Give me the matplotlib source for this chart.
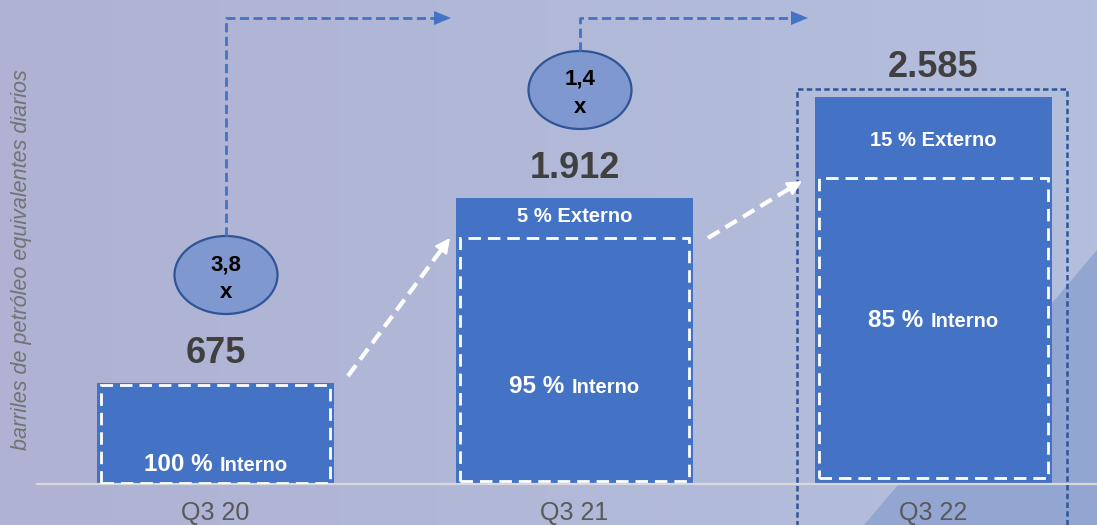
import numpy as np
import matplotlib
matplotlib.use("Agg")
import matplotlib.pyplot as plt
from matplotlib.patches import Rectangle, Ellipse, Polygon
from matplotlib.offsetbox import TextArea, HPacker, AnnotationBbox

plt.rcParams['font.family'] = ['Liberation Sans', 'DejaVu Sans']

# Data
categories = ["Q3 20", "Q3 21", "Q3 22"]
totals = [675, 1912, 2585]
interno_pct = [100, 95, 85]
externo_pct = [0, 5, 15]
growth = ["3,8", "1,4"]

# where the dashed "interno" frame sits on each bar (data units)
interno_box_top = [662, 1644, 2045]
interno_box_bottom = [7, 20, 40]
interno_label_y = [130, 655, 1096]
externo_label_y = [None, 1785, 2299]

W, H = 1097, 525
BAR_COLOR = "#4472c4"
DARK_BLUE = "#2f5597"

fig = plt.figure(figsize=(W / 100, H / 100), dpi=100)

# background gradient + diagonal decoration (pixel coords)
bg = fig.add_axes([0, 0, 1, 1], zorder=0)
bg.set_xlim(0, W)
bg.set_ylim(H, 0)
bg.axis("off")
left_c = np.array([175, 178, 211]) / 255
right_c = np.array([180, 191, 221]) / 255
t = np.linspace(0, 1, 256)[None, :, None]
grad = left_c * (1 - t) + right_c * t
bg.imshow(grad, extent=[0, W, H, 0], aspect="auto")
bg.add_patch(Polygon([(864, 525), (1097, 250), (1097, 525)], closed=True,
                     facecolor="#92a6d1", edgecolor="none"))

# main axes: baseline at the bottom spine
ax = fig.add_axes([37 / W, 41 / H, 1060 / W, 484 / H], zorder=1)
ax.set_facecolor("none")
x = np.arange(len(categories))
width = 0.66
ax.bar(x, totals, width=width, color=BAR_COLOR, zorder=2)
ax.set_xlim((37 - 215.5) / 359, (W - 215.5) / 359)
ax.set_ylim(0, 3235)
for side in ["left", "right", "top"]:
    ax.spines[side].set_visible(False)
ax.spines["bottom"].set_color("#d9d9d9")
ax.spines["bottom"].set_linewidth(1.6)
ax.set_yticks([])
ax.set_xticks(x)
ax.set_xticklabels(categories, fontsize=18, color="#595959")
ax.tick_params(axis="x", length=0, pad=12.5)

# white dashed frames for the internal share
for i in range(len(categories)):
    ax.add_patch(Rectangle((x[i] - 0.32, interno_box_bottom[i]), 0.64,
                           interno_box_top[i] - interno_box_bottom[i],
                           fill=False, edgecolor="white", lw=2,
                           linestyle=(0, (4.5, 2.5)), zorder=3))

# totals above bars
for i, v in enumerate(totals):
    ax.text(x[i], v + 200, f"{v:,}".replace(",", "."), ha="center", va="center",
            fontsize=26, fontweight="bold", color="#404040", zorder=4)


def mixed_label(xpos, ypos, big, small, big_size, small_size):
    parts = [TextArea(big, textprops=dict(color="white", fontsize=big_size, fontweight="bold")),
             TextArea(small, textprops=dict(color="white", fontsize=small_size, fontweight="bold"))]
    pack = HPacker(children=parts, align="baseline", pad=0, sep=5)
    ab = AnnotationBbox(pack, (xpos, ypos), xycoords="data", frameon=False,
                        box_alignment=(0.5, 0.5), pad=0, zorder=5)
    ax.add_artist(ab)


for i in range(len(categories)):
    mixed_label(x[i], interno_label_y[i], f"{interno_pct[i]} %", "Interno", 17.5, 14.5)
    if externo_pct[i]:
        ax.text(x[i], externo_label_y[i], f"{externo_pct[i]} % Externo", ha="center",
                va="center", color="white", fontsize=14.5, fontweight="bold", zorder=5)

# overlay for arrows, ellipses (pixel coords)
deco = fig.add_axes([0, 0, 1, 1], zorder=2)
deco.set_xlim(0, W)
deco.set_ylim(H, 0)
deco.axis("off")
deco.set_facecolor("none")

# dark dashed frame around Q3 22
deco.plot([797, 797, 1067, 1067], [530, 89, 89, 530], color=DARK_BLUE, lw=1.8,
          linestyle=(0, (2.2, 1.3)), clip_on=False)

# growth ellipses with connectors
ellipses = [(226, 275), (580, 90)]
arrow_ends = [451, 808]
for (cx, cy), end, g in zip(ellipses, arrow_ends, growth):
    top = cy - 39
    deco.plot([cx, cx, end - 16], [top, 18, 18], color=BAR_COLOR, lw=2,
              linestyle=(0, (3.3, 1.6)))
    deco.add_patch(Polygon([(end - 17, 11), (end, 18), (end - 17, 25)], closed=True,
                           facecolor=BAR_COLOR, edgecolor="none"))
    deco.add_patch(Ellipse((cx, cy), 103, 78, facecolor="#7f98cf",
                           edgecolor=DARK_BLUE, lw=1.6))
    deco.text(cx, cy - 5, g, ha="center", va="baseline", fontsize=16,
              fontweight="bold", color="black")
    deco.text(cx, cy + 23, "x", ha="center", va="baseline", fontsize=16,
              fontweight="bold", color="black")

# white dashed growth arrows between bars
white_arrows = [((348, 376), (450, 238)), ((708, 238), (802, 181))]
for (x0, y0), (x1, y1) in white_arrows:
    d = np.hypot(x1 - x0, y1 - y0)
    ux, uy = (x1 - x0) / d, (y1 - y0) / d
    deco.plot([x0, x1 - ux * 14], [y0, y1 - uy * 14], color="white", lw=3,
              linestyle=(0, (3.2, 1.7)), solid_capstyle="butt")
    deco.annotate("", xy=(x1, y1), xytext=(x1 - ux * 16, y1 - uy * 16),
                  arrowprops=dict(arrowstyle="-|>,head_length=0.9,head_width=0.45",
                                  color="white", lw=1.5, shrinkA=0, shrinkB=0))

fig.text(22 / W, 1 - 260 / H, "barriles de petróleo equivalentes diarios", rotation=90,
         ha="center", va="center", fontsize=15.5, style="italic", color="#737373")

fig.savefig("out.png", dpi=100)
